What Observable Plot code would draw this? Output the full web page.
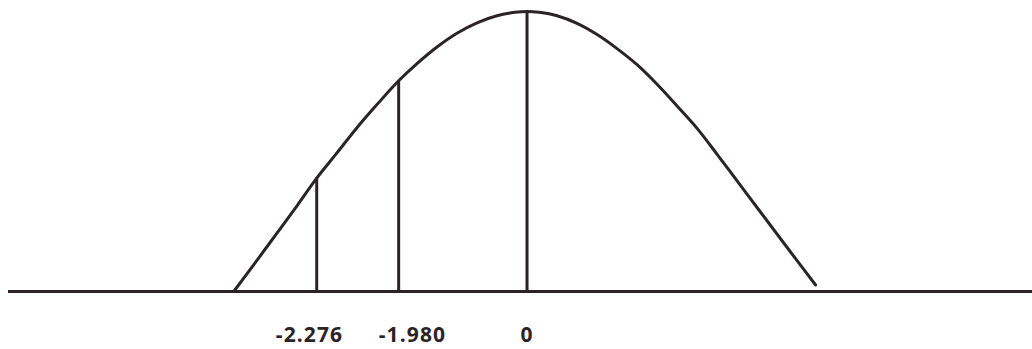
<!DOCTYPE html>
<html>
<head>
<meta charset="utf-8">
<script src="https://cdn.jsdelivr.net/npm/d3@7"></script>
<script src="https://cdn.jsdelivr.net/npm/@observablehq/plot@0.6"></script>
<style>
  html, body { margin: 0; padding: 0; background: #ffffff; overflow: hidden; }
  #chart svg { display: block; }
</style>
</head>
<body>
<div id="chart"></div>
<script>
// Bell curve (schematic axis units, density units)
const curveX = [-4.044, -3.724, -3.448, -3.172, -2.90, -2.621, -2.345, -2.069, -1.77, -1.517, -1.241, -0.966, -0.690, -0.414, -0.166, 0,
                0.166, 0.414, 0.690, 0.966, 1.241, 1.517, 1.793, 2.069, 2.345, 2.621, 2.897, 3.172, 3.448, 3.724, 3.979];
const curveY = [0.000, 0.0445, 0.0834, 0.1224, 0.162, 0.198, 0.234, 0.267, 0.301, 0.3256, 0.3493, 0.3689, 0.3838, 0.3939, 0.3988, 0.400,
                0.3988, 0.3939, 0.383, 0.367, 0.347, 0.324, 0.296, 0.265, 0.233, 0.196, 0.158, 0.120, 0.082, 0.044, 0.0093];

// Critical values: line positions on the schematic axis, line heights, labels
const criticalPos = [-2.90, -1.77, 0];
const criticalHeight = [0.162, 0.301, 0.400];
const criticalLabels = ["-2.276", "-1.980", "0"];
const labelPos = [-3.00, -1.58, 0];

const curve = curveX.map((x, i) => ({x, y: curveY[i]}));
const crit = criticalPos.map((x, i) => ({x, h: criticalHeight[i], label: criticalLabels[i], lx: labelPos[i]}));

const ink = "#2b2326";

const chart = Plot.plot({
  width: 1032,
  height: 349,
  marginLeft: 8,
  marginRight: 0,
  marginTop: 11,
  marginBottom: 58,
  x: {domain: [-7.15, 6.97], axis: null},
  y: {domain: [0, 0.4], axis: null},
  style: {background: "#ffffff", overflow: "visible"},
  marks: [
    Plot.ruleY([0], {stroke: ink, strokeWidth: 3}),
    Plot.line(curve, {x: "x", y: "y", curve: "catmull-rom", stroke: ink, strokeWidth: 3}),
    Plot.ruleX(crit, {x: "x", y1: 0, y2: "h", stroke: ink, strokeWidth: 3}),
    Plot.text(crit, {
      x: "lx", y: 0, text: "label", dy: 44,
      fill: ink, fontSize: 21, fontWeight: "bold",
      fontFamily: "'Open Sans', sans-serif",
      textAnchor: "middle"
    })
  ]
});
chart.querySelectorAll("text").forEach(t => t.setAttribute("letter-spacing", "1.1"));
document.getElementById("chart").appendChild(chart);
</script>
</body>
</html>
